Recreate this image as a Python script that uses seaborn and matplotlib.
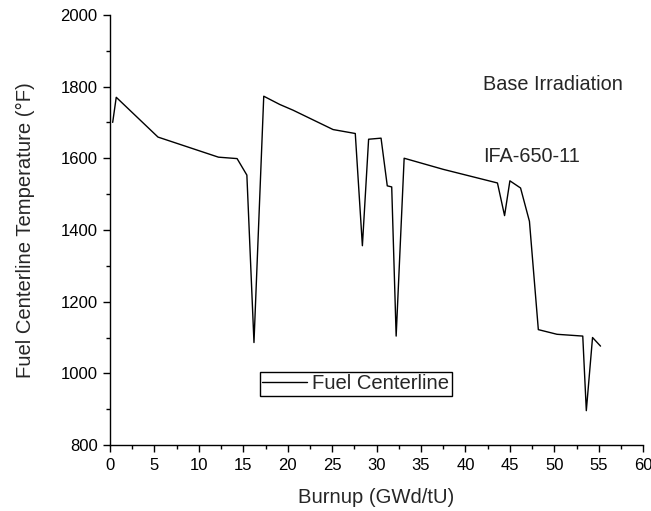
import matplotlib
matplotlib.use("Agg")
import matplotlib.pyplot as plt
import seaborn as sns
import pandas as pd
from matplotlib.ticker import MultipleLocator

burnup = [0.3, 0.7, 5.4, 12.2, 14.3, 15.4, 16.2, 17.3, 19.1, 20.6, 25.1, 27.6,
          28.4, 29.1, 30.5, 31.2, 31.7, 32.2, 33.1, 37.5, 43.6, 44.4, 45.0,
          46.2, 47.2, 48.2, 50.3, 53.2, 53.6, 54.3, 55.2]
temperature = [1700, 1770, 1659, 1603, 1599, 1553, 1086, 1773, 1750, 1734, 1680, 1669,
               1356, 1653, 1656, 1523, 1520, 1104, 1600, 1569, 1531, 1440, 1537,
               1517, 1424, 1122, 1109, 1104, 896, 1100, 1076]
series_name = "Fuel Centerline"

df = pd.DataFrame({"Burnup": burnup, "Temp": temperature, "Series": series_name})

sns.set_style("ticks")
plt.rcParams["font.family"] = ["Liberation Sans", "DejaVu Sans"]

fig = plt.figure(figsize=(6.51, 5.11), dpi=100)
ax = fig.add_axes([0.169, 0.129, 0.819, 0.842])

sns.lineplot(data=df, x="Burnup", y="Temp", hue="Series", palette=["black"],
             linewidth=1.0, ax=ax, sort=False, estimator=None)

ax.set_xlim(0, 60)
ax.set_ylim(800, 2000)
ax.xaxis.set_major_locator(MultipleLocator(5))
ax.xaxis.set_minor_locator(MultipleLocator(2.5))
ax.yaxis.set_major_locator(MultipleLocator(200))
ax.yaxis.set_minor_locator(MultipleLocator(100))
ax.tick_params(which="major", direction="out", length=5, width=1, labelsize=12,
               colors="black", pad=4)
ax.tick_params(which="minor", direction="out", length=3, width=1, colors="black")
for s in ["top", "right"]:
    ax.spines[s].set_visible(False)
for s in ["left", "bottom"]:
    ax.spines[s].set_color("black")
    ax.spines[s].set_linewidth(1)

ax.set_xlabel("Burnup (GWd/tU)", fontsize=14.6, labelpad=11)
ax.set_ylabel("Fuel Centerline Temperature (°F)", fontsize=14.6, labelpad=18)

ax.text(0.70, 0.838, "Base Irradiation", transform=ax.transAxes, fontsize=14.3,
        va="center")
ax.text(0.70, 0.670, "IFA-650-11", transform=ax.transAxes, fontsize=14.3,
        va="center")

leg = ax.legend(loc="center left", bbox_to_anchor=(0.281, 0.142), fontsize=14.6,
                frameon=True, fancybox=False, edgecolor="black", borderpad=0.12,
                handlelength=2.2, handletextpad=0.27, borderaxespad=0)
leg.get_frame().set_linewidth(1)
leg.get_frame().set_alpha(1)

fig.savefig("out.png", dpi=100)
